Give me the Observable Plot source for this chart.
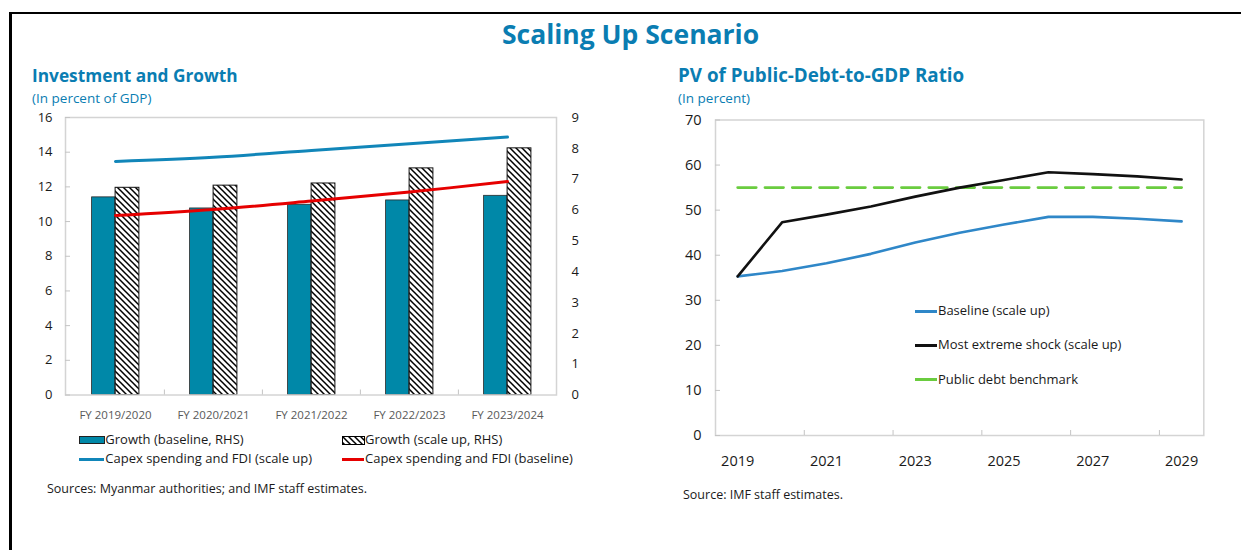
<!DOCTYPE html>
<html><head><meta charset="utf-8">
<script src="https://cdn.jsdelivr.net/npm/d3@7"></script>
<script src="https://cdn.jsdelivr.net/npm/@observablehq/plot@0.6"></script>
<style>
body{margin:0;background:#fff;font-family:"Open Sans",sans-serif;}
#fig{position:relative;width:1241px;height:550px;overflow:hidden;background:#fff}
.t{position:absolute;white-space:nowrap;line-height:1;color:#1a1a1a}
.blue{color:#0a7db2}
.plot{position:absolute}
.sw{position:absolute}
</style></head><body>
<div id="fig">
  <div style="position:absolute;left:9px;top:12px;width:1232px;height:2px;background:#000"></div>
  <div style="position:absolute;left:9px;top:12px;width:2.5px;height:538px;background:#000"></div>

  <div class="t blue" style="left:0;width:1261px;text-align:center;top:20.8px;font-size:26.5px;font-weight:700">Scaling Up Scenario</div>
  <div class="t blue" style="left:32px;top:67.3px;font-size:17.3px;font-weight:700">Investment and Growth</div>
  <div class="t blue" style="left:32px;top:92px;font-size:13.5px">(In percent of GDP)</div>
  <div class="t blue" style="left:678px;top:65.8px;font-size:18.8px;font-weight:700">PV of Public-Debt-to-GDP Ratio</div>
  <div class="t blue" style="left:678px;top:92px;font-size:13.5px">(In percent)</div>

  <div id="left" class="plot" style="left:0;top:100px"></div>
  <div id="right" class="plot" style="left:660px;top:100px"></div>

  <!-- left legend -->
  <div class="sw" style="left:79.3px;top:436px;width:23.5px;height:6px;background:#0088a8;border:1px solid #222"></div>
  <div class="t" style="left:105.3px;top:433.2px;font-size:13px">Growth (baseline, RHS)</div>
  <svg class="sw" style="left:342px;top:435.5px" width="23" height="9">
    <defs><pattern id="hatchL" patternUnits="userSpaceOnUse" width="6" height="6">
      <path d="M0,0L6,6M-1,5L1,7M5,-1L7,1" stroke="#000" stroke-width="1.5"/></pattern></defs>
    <rect x="0.5" y="0.5" width="22" height="8" fill="url(#hatchL)" stroke="#000" stroke-width="1"/>
  </svg>
  <div class="t" style="left:365px;top:433.2px;font-size:13px">Growth (scale up, RHS)</div>
  <div class="sw" style="left:79px;top:457.5px;width:25px;height:3px;background:#1186b9"></div>
  <div class="t" style="left:105.3px;top:452.2px;font-size:13px">Capex spending and FDI (scale up)</div>
  <div class="sw" style="left:342px;top:457.5px;width:22px;height:3px;background:#e60000"></div>
  <div class="t" style="left:365px;top:452.2px;font-size:13px">Capex spending and FDI (baseline)</div>
  <div class="t" style="left:47px;top:483.4px;font-size:12.5px">Sources: Myanmar authorities; and IMF staff estimates.</div>

  <!-- right legend -->
  <div class="sw" style="left:915px;top:309.5px;width:22px;height:3px;background:#2f87c8"></div>
  <div class="t" style="left:938px;top:304.2px;font-size:13px">Baseline (scale up)</div>
  <div class="sw" style="left:915px;top:343.5px;width:22px;height:3px;background:#111"></div>
  <div class="t" style="left:938px;top:338.2px;font-size:13px">Most extreme shock (scale up)</div>
  <div class="sw" style="left:915px;top:377.8px;width:22px;height:3px;background:#6acc3f"></div>
  <div class="t" style="left:938px;top:372.5px;font-size:13px">Public debt benchmark</div>
  <div class="t" style="left:683px;top:489.4px;font-size:12.5px">Source: IMF staff estimates.</div>
</div>
<script>
// ---- Left chart data ----
const categories = ["FY 2019/2020", "FY 2020/2021", "FY 2021/2022", "FY 2022/2023", "FY 2023/2024"];
const growthBaseline = [6.41, 6.05, 6.17, 6.31, 6.46];   // RHS
const growthScaleUp = [6.72, 6.79, 6.86, 7.35, 8.00];    // RHS
const capexScaleUp = [13.47, 13.71, 14.10, 14.49, 14.87]; // LHS
const capexBaseline = [10.35, 10.70, 11.18, 11.70, 12.31]; // LHS
const leftTicks = [0, 2, 4, 6, 8, 10, 12, 14, 16];
const rightTicks = [0, 1, 2, 3, 4, 5, 6, 7, 8, 9];

// ---- Right chart data ----
const years = [2019, 2020, 2021, 2022, 2023, 2024, 2025, 2026, 2027, 2028, 2029];
const debtBaseline = [35.3, 36.5, 38.2, 40.3, 42.8, 45.0, 46.8, 48.5, 48.5, 48.1, 47.5];
const debtShock = [35.3, 47.3, 49.0, 50.8, 53.0, 55.0, 56.7, 58.4, 58.0, 57.5, 56.8];
const debtBenchmark = [55, 55, 55, 55, 55, 55, 55, 55, 55, 55, 55];
const yearLabels = [2019, 2021, 2023, 2025, 2027, 2029];
const debtTicks = [0, 10, 20, 30, 40, 50, 60, 70];

const FONT = "Open Sans";
const k = 16 / 9; // RHS (0-9) onto LHS (0-16)

const leftData = categories.map((c, i) => ({
  cat: c, gb: growthBaseline[i], gs: growthScaleUp[i], cs: capexScaleUp[i], cb: capexBaseline[i]
}));

const left = Plot.plot({
  width: 620, height: 330,
  marginLeft: 65, marginRight: 64, marginTop: 17, marginBottom: 35.5,
  style: {fontFamily: FONT, background: "transparent", overflow: "visible"},
  x: {type: "band", domain: categories, padding: 0, axis: null, label: null},
  y: {domain: [0, 16], axis: null, label: null},
  marks: [
    Plot.barY(leftData, {x: "cat", y: d => d.gb * k, fill: "#0088a8", stroke: "#2a2a2a", strokeWidth: 0.8, insetLeft: 25.6, insetRight: 49.1}),
    Plot.barY(leftData, {x: "cat", y: d => d.gs * k, fill: "url(#hatch)", stroke: "#111", strokeWidth: 1, insetLeft: 49.1, insetRight: 25.1}),
    Plot.line(leftData, {x: "cat", y: "cs", stroke: "#1186b9", strokeWidth: 3, curve: "catmull-rom"}),
    Plot.line(leftData, {x: "cat", y: "cb", stroke: "#e60000", strokeWidth: 3, curve: "catmull-rom"}),
    Plot.frame({stroke: "#d4d4d4", strokeWidth: 1.5}),
    Plot.axisY({ticks: leftTicks, anchor: "left", label: null, tickSize: 0, tickPadding: 13, fontSize: 13, color: "#1a1a1a"}),
    Plot.axisY({ticks: leftTicks, anchor: "left", label: null, tickSize: -5, tickFormat: () => "", color: "#c4c4c4"}),
    Plot.axisY({ticks: rightTicks.map(v => v * k), anchor: "right", label: null, tickSize: 0, tickPadding: 15, fontSize: 13, color: "#1a1a1a", textAnchor: "start", tickFormat: v => String(Math.round(v / k))}),
    Plot.axisX({anchor: "bottom", label: null, tickSize: 0, tickPadding: 15.7, fontSize: 11.5, color: "#595959"}),
    Plot.axisX({ticks: categories.slice(1), anchor: "bottom", label: null, tickSize: -5, dx: -49.1, tickFormat: () => "", color: "#c4c4c4"})
  ]
});
d3.select(left).insert("defs", ":first-child").html(
  '<pattern id="hatch" patternUnits="userSpaceOnUse" width="6" height="6">' +
  '<path d="M0,0L6,6M-1,5L1,7M5,-1L7,1" stroke="#000" stroke-width="1.5"/></pattern>');
document.getElementById("left").appendChild(left);

const debtData = years.map((y, i) => ({year: y, base: debtBaseline[i], shock: debtShock[i], bench: debtBenchmark[i]}));

const right = Plot.plot({
  width: 581, height: 380,
  marginLeft: 55, marginRight: 37.7, marginTop: 19.5, marginBottom: 45,
  style: {fontFamily: FONT, background: "transparent", overflow: "visible"},
  x: {type: "linear", domain: [2018.5, 2029.5], axis: null, label: null},
  y: {domain: [0, 70], axis: null, label: null},
  marks: [
    Plot.frame({stroke: "#d4d4d4", strokeWidth: 1.5}),
    Plot.line(debtData, {x: "year", y: "bench", stroke: "#6acc3f", strokeWidth: 2.8, strokeDasharray: "18.5,8.8"}),
    Plot.line(debtData, {x: "year", y: "base", stroke: "#2f87c8", strokeWidth: 2.6}),
    Plot.line(debtData, {x: "year", y: "shock", stroke: "#111", strokeWidth: 2.6}),
    Plot.axisY({ticks: debtTicks, anchor: "left", label: null, tickSize: 0, tickPadding: 14, fontSize: 14.5, color: "#1a1a1a"}),
    Plot.axisY({ticks: debtTicks, anchor: "left", label: null, tickSize: -5, tickFormat: () => "", color: "#c4c4c4"}),
    Plot.axisX({ticks: yearLabels, anchor: "bottom", label: null, tickSize: 0, tickPadding: 20, fontSize: 14.5, color: "#1a1a1a", tickFormat: d => String(d)}),
    Plot.axisX({ticks: yearLabels.slice(1).map(y => y - 0.5), anchor: "bottom", label: null, tickSize: -5, tickFormat: () => "", color: "#c4c4c4"})
  ]
});
document.getElementById("right").appendChild(right);
</script>
</body></html>
